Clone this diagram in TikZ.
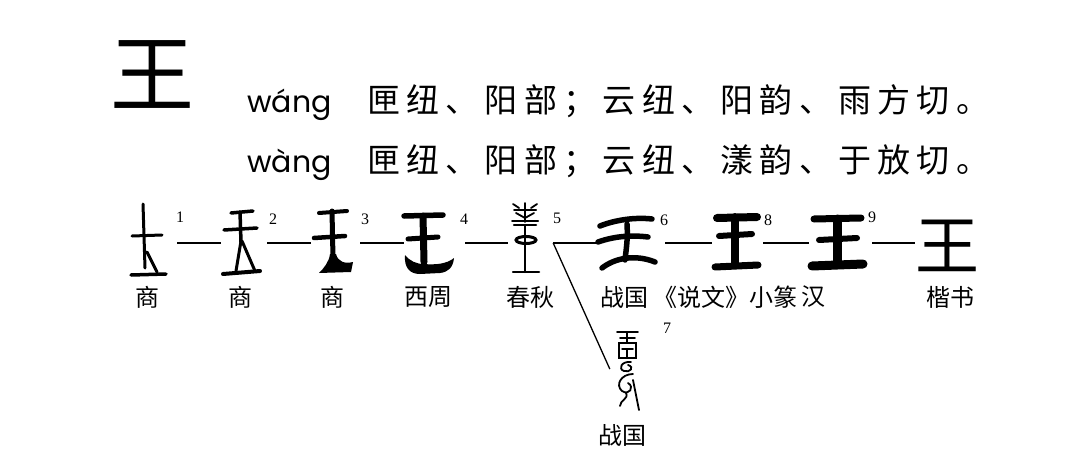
\documentclass[tikz,border=0pt]{standalone}
\usepackage{fontspec}
\newfontfamily\cjk{Noto Sans CJK SC}
\newfontfamily\cjkwide[LetterSpace=19]{Noto Sans CJK SC}
\newfontfamily\pyfont{Poppins}
\newfontfamily\numfont{Liberation Serif}
\usetikzlibrary{positioning,calc}

\begin{document}
\begin{tikzpicture}[x=1pt, y=-1pt,
  big/.style={font=\cjk\fontsize{84}{84}\selectfont, inner sep=0pt},
  kai/.style={font=\cjk\fontsize{64}{64}\selectfont, inner sep=0pt},
  py/.style={font=\pyfont\fontsize{30}{30}\selectfont, inner sep=0pt},
  rd/.style={font=\cjkwide\fontsize{33}{33}\selectfont, inner sep=0pt},
  era/.style={font=\cjk\fontsize{24}{24}\selectfont, inner sep=0pt},
  num/.style={font=\numfont\fontsize{16}{16}\selectfont, inner sep=0pt},
  glyph/.style={inner sep=0pt, minimum height=60pt},
  stroke/.style={line width=#1, line cap=round},
  link/.style={line width=1.3pt}]

\useasboundingbox (0,0) rectangle (1075,460);

% =================== the head character and its readings ===============
\node[big] (head) at (152,75) {王};
\node[py, anchor=base west] (py1) at (247,112) {wáng};
\node[rd, anchor=base west] (rd1) at (367,112) {匣纽、阳部；云纽、阳韵、雨方切。};
\node[py, anchor=base west] (py2) at (247,172) {wàng};
\node[rd, anchor=base west] (rd2) at (367,172) {匣纽、阳部；云纽、漾韵、于放切。};

% =================== the row of old forms ===============================
\foreach \n/\x/\w in {1/147/32, 2/240/38, 3/332/42, 4/429/50, 5/525/34,
                      6/626.5/59, 8/736.5/49, 9/837.5/57}
  \node[glyph, minimum width=\w] (g\n) at (\x,243) {};
\node[glyph, minimum width=22, minimum height=80] (g7) at (628,369) {};
\node[kai] (g10) at (947,246) {王};

% form 1
\draw[stroke=3pt] (143,204) -- (145,268);
\draw[stroke=3pt] (132,236) -- (162,235);
\draw[stroke=3pt] (147,252) -- (157,272);
\draw[stroke=3.5pt] (131,275) -- (166,274);

% form 2
\draw[stroke=3.5pt] (231,213) -- (253,211);
\draw[stroke=3.5pt] (224,230) -- (257,228);
\draw[stroke=3.5pt] (240,212) -- (241,242);
\draw[stroke=3pt] (241,241) -- (236,271);
\draw[stroke=3pt] (242,241) -- (255,271);
\draw[stroke=4pt] (223,274) -- (260,271);

% form 3
\draw[stroke=4pt] (319,213) -- (347,211);
\draw[stroke=4.5pt] (314,238) -- (345,236);
\draw[stroke=5pt] (332,211) -- (333,258);
\fill (330,254) -- (336,254) .. controls (338,262) and (345,264) .. (353,262)
  -- (351,272) -- (319,273) .. controls (324,268) and (329,262) .. (330,254) -- cycle;

% form 4
\draw[stroke=5.5pt] (404,216) -- (443,215);
\draw[stroke=5pt] (408,239) -- (438,237);
\draw[stroke=7pt] (423,216) -- (424,262);
\fill (405,255) .. controls (404,268) and (410,274) .. (420,274) -- (440,273)
  .. controls (448,272) and (453,268) .. (454,258)
  .. controls (447,264) and (435,265) .. (424,264)
  .. controls (416,264) and (410,261) .. (405,255) -- cycle;

% form 5
\draw[stroke=1.8pt] (513,204) -- (519,208);
\draw[stroke=1.8pt] (537,204) -- (531,208);
\draw[stroke=2pt] (514,210) -- (536,210);
\draw[stroke=1.8pt] (525,203) -- (525,222);
\draw[stroke=1.8pt] (516,213) -- (525,218) -- (534,213);
\draw[stroke=2pt] (512,221) -- (538,221);
\draw[stroke=2.5pt] (514,225) -- (536,225);
\draw[stroke=3pt] (526,240) ellipse [x radius=10, y radius=3.5];
\draw[stroke=2.2pt] (525,226) -- (525,272);
\draw[stroke=2.5pt] (513,272) -- (539,272);

% form 6
\draw[stroke=5.5pt] (600,226) .. controls (615,220) and (635,217) .. (652,219);
\draw[stroke=5.5pt] (598,242) .. controls (615,236) and (632,235) .. (648,237);
\draw[stroke=5.5pt] (627,224) .. controls (628,240) and (626,250) .. (625,260);
\draw[stroke=5.5pt] (602,268) .. controls (615,258) and (635,254) .. (655,262);

% form 7 (the branch)
\draw[stroke=1.8pt] (617,332) -- (638,332);
\draw[stroke=1.8pt] (620,338) -- (635,338);
\draw[stroke=1.8pt] (627,332) -- (627,343);
\draw[stroke=1.8pt] (619,343) rectangle (636,358);
\draw[stroke=1.5pt] (622,349) -- (633,349);
\draw[stroke=1.5pt] (627,349) -- (627,358);
\draw[stroke=1.8pt] (631,362) .. controls (621,361) and (618,369) .. (624,371)
  .. controls (630,373) and (635,367) .. (628,365);
\draw[stroke=1.8pt] (633,374) .. controls (621,374) and (615,385) .. (622,391)
  .. controls (629,396) and (635,387) .. (628,383);
\draw[stroke=1.8pt] (626,393) .. controls (629,399) and (620,400) .. (620,406);
\draw[stroke=1.8pt] (633,380) -- (639,410);

% form 8
\draw[stroke=8pt] (717,218) -- (757,217);
\draw[stroke=6pt] (719,236) -- (752,234);
\draw[stroke=8pt] (735,217) -- (735,265);
\draw[stroke=7pt] (715,267) -- (758,265);

% form 9
\draw[stroke=7pt] (814,219) -- (861,218);
\draw[stroke=6pt] (819,240) -- (857,238);
\draw[stroke=9pt] (837,219) -- (837,263);
\draw[stroke=9pt] (812,266) -- (863,264);

% links
\draw[link] ([xshift=14]g1.east) -- (g2.west);
\draw[link] ([xshift=8]g2.east) -- (g3.west);
\draw[link] ([xshift=7]g3.east) -- (g4.west);
\draw[link] ([xshift=11]g4.east) -- (g5.west);
\coordinate (fork) at ([xshift=11]g5.east);
\draw[link] (fork) -- (g6.west);
\draw[link] (fork) -- ([xshift=-7]g7.west);
\draw[link] ([xshift=9]g6.east) -- (g8.west);
\draw[link] ([xshift=2]g8.east) -- (g9.west);
\draw[link] ([xshift=6]g9.east) -- (g9.east -| g10.west);

% numbers
\foreach \n/\x/\y in {1/180/217, 2/273/219, 3/365/219, 4/464/219, 5/557/218,
                      6/664/220, 8/768/220, 9/872/217, 7/667/328}
  \node[num] (n\n) at (\x,\y) {\n};

% periods
\node[era] (e1) at (147,297) {商};
\node[era] (e2) at (240,297) {商};
\node[era] (e3) at (332,297) {商};
\node[era] (e4) at (428,297) {西周};
\node[era] (e5) at (530,297) {春秋};
\node[era] (e6) at (624,297) {战国};
\node[era] (e8) at (725,297) {《说文》小篆};
\node[era] (e9) at (813,297) {汉};
\node[era] (e10) at (950,297) {楷书};
\node[era] (e7) at (622,435) {战国};
\end{tikzpicture}
\end{document}
